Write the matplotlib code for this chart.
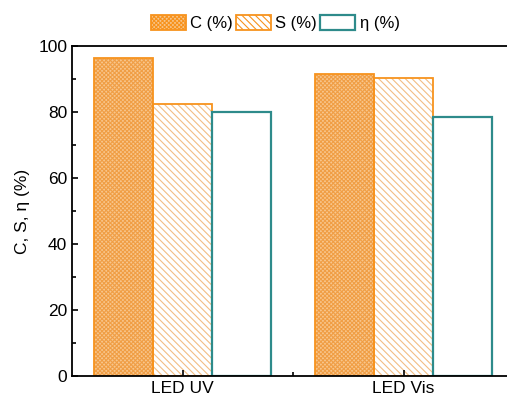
import numpy as np
import matplotlib.pyplot as plt
from matplotlib.ticker import MultipleLocator, FixedLocator

plt.rcParams['font.family'] = ['Liberation Sans', 'DejaVu Sans']
plt.rcParams['hatch.linewidth'] = 0.8

# data
categories = ["LED UV", "LED Vis"]
conv = [96.5, 91.4]
sel = [82.5, 90.4]
eff = [79.9, 78.4]

orange = "#F7931E"
teal = "#2E8B8B"
light = "#F3BE84"
fill_c = "#F8C68C"
hatch_c = "#F09E45"

fig = plt.figure(figsize=(5.07, 3.99), dpi=100)
ax = fig.add_axes([72 / 507, 1 - 376 / 399, 442 / 507, 330 / 399])

x = np.arange(1, len(categories) + 1)
w = 0.267

# hatch layers drawn first in a lighter orange, outlines on top
ax.bar(x - w, conv, w, facecolor=fill_c, edgecolor=hatch_c,
       hatch="xxxxxxxx", linewidth=0)
ax.bar(x, sel, w, facecolor="white", edgecolor=light, hatch="\\\\\\\\\\",
       linewidth=0)
ax.bar(x - w, conv, w, facecolor="none", edgecolor=orange, linewidth=1.3)
ax.bar(x, sel, w, facecolor="none", edgecolor=orange, linewidth=1.3)
ax.bar(x + w, eff, w, facecolor="white", edgecolor=teal, linewidth=1.6)

# legend handles
h1 = plt.Rectangle((0, 0), 1, 1, facecolor=fill_c, edgecolor=orange,
                   hatch="xxxxxxxx", linewidth=1.3)
h2 = plt.Rectangle((0, 0), 1, 1, facecolor="white", edgecolor=orange,
                   hatch="\\\\\\\\\\", linewidth=1.3)
h3 = plt.Rectangle((0, 0), 1, 1, facecolor="white", edgecolor=teal,
                   linewidth=1.6)

ax.set_xlim(0.5, 2.5)
ax.set_ylim(0, 100)
ax.set_xticks(x)
ax.set_xticklabels(categories)
ax.xaxis.set_minor_locator(FixedLocator([1.5]))
ax.yaxis.set_major_locator(MultipleLocator(20))
ax.yaxis.set_minor_locator(MultipleLocator(10))
ax.tick_params(which="both", direction="in", labelsize=12.5, width=1.2)
ax.tick_params(which="major", length=4)
ax.tick_params(which="minor", length=3)
ax.set_ylabel("C, S, \u03b7 (%)", fontsize=12.5, labelpad=6)
for s in ax.spines.values():
    s.set_linewidth(1.3)

ax.legend([h1, h2, h3], ["C (%)", "S (%)", "\u03b7 (%)"],
          loc="lower center", bbox_to_anchor=(0.46, 1.0), ncol=3,
          frameon=False, fontsize=12, handlelength=2.1, handleheight=1.0,
          columnspacing=0.2, handletextpad=0.25)

fig.savefig("out.png", dpi=100)
